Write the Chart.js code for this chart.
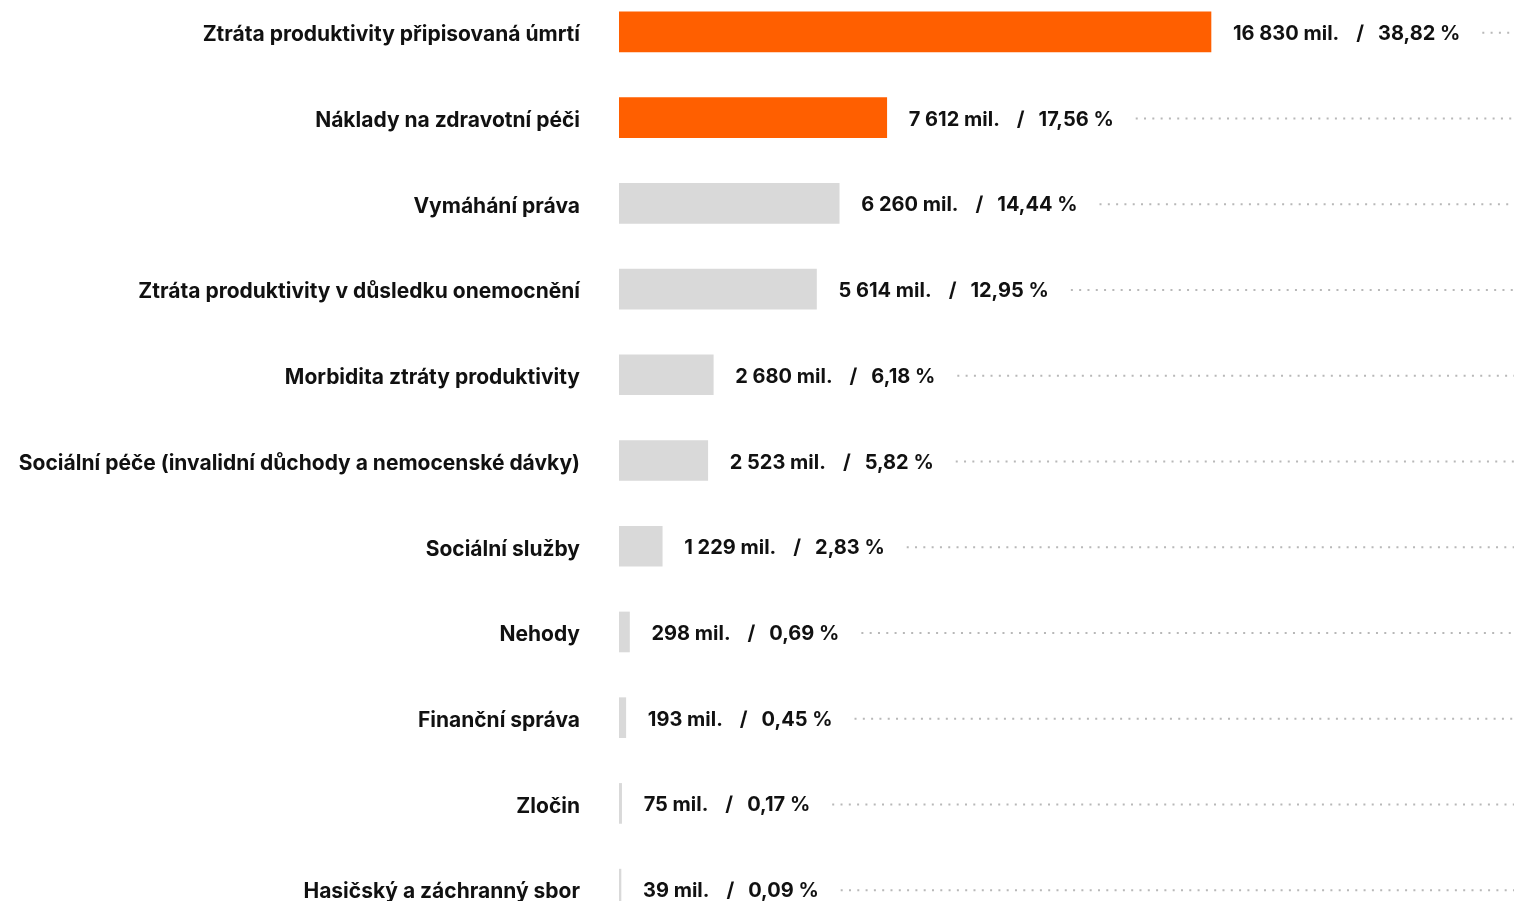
<!DOCTYPE html>
<html lang="cs">
<head>
<meta charset="utf-8">
<script src="https://cdn.jsdelivr.net/npm/chart.js"></script>
<style>
  html, body { margin: 0; padding: 0; background: #fff; overflow: hidden; width: 1517px; height: 901px; }
  #costChart { position: absolute; left: 0; top: -11px; }
</style>
</head>
<body>
<canvas id="costChart" width="1517" height="943"></canvas>
<script>
// data
const categories = [
  'Ztráta produktivity připisovaná úmrtí',
  'Náklady na zdravotní péči',
  'Vymáhání práva',
  'Ztráta produktivity v důsledku onemocnění',
  'Morbidita ztráty produktivity',
  'Sociální péče (invalidní důchody a nemocenské dávky)',
  'Sociální služby',
  'Nehody',
  'Finanční správa',
  'Zločin',
  'Hasičský a záchranný sbor'
];
const costMil = [16830, 7612, 6260, 5614, 2680, 2523, 1229, 298, 193, 75, 39];
const sharePct = [38.82, 17.56, 14.44, 12.95, 6.18, 5.82, 2.83, 0.69, 0.45, 0.17, 0.09];
const highlighted = [true, true, false, false, false, false, false, false, false, false, false];

const ORANGE = '#ff5f00';
const GREY = '#d9d9d9';
const FONT = 'Inter, "Noto Sans", sans-serif';

function fmtNum(v) {
  return v.toString().replace(/\B(?=(\d{3})+(?!\d))/g, ' ');
}
function fmtPct(v) {
  return v.toFixed(2).replace('.', ',') + ' %';
}

// draws "xx mil.  /  yy %" after each bar, then a dotted leader to the right edge
const valueLabels = {
  id: 'valueLabels',
  afterDatasetsDraw(chart) {
    const ctx = chart.ctx;
    const meta = chart.getDatasetMeta(0);
    ctx.save();
    ctx.font = '700 20px ' + FONT;
    ctx.fillStyle = '#111';
    ctx.textBaseline = 'middle';
    ctx.textAlign = 'left';
    meta.data.forEach((bar, i) => {
      const y = bar.y + 2;
      let x = Math.max(bar.x, chart.chartArea.left + 2) + 22;
      const a = fmtNum(costMil[i]) + ' mil.';
      ctx.fillText(a, x, y);
      x += ctx.measureText(a).width + 17;
      ctx.fillText('/', x, y);
      x += ctx.measureText('/').width + 14;
      const b = fmtPct(sharePct[i]);
      ctx.fillText(b, x, y);
      x += ctx.measureText(b).width + 22;

      ctx.beginPath();
      ctx.strokeStyle = '#b8b8b8';
      ctx.lineWidth = 2;
      ctx.setLineDash([2, 6.3]);
      ctx.moveTo(x, bar.y + 1);
      ctx.lineTo(1514, bar.y + 1);
      ctx.stroke();
      ctx.setLineDash([]);
    });
    ctx.restore();
  }
};

const ctx = document.getElementById('costChart').getContext('2d');
new Chart(ctx, {
  type: 'bar',
  data: {
    labels: categories,
    datasets: [{
      data: costMil,
      backgroundColor: highlighted.map(h => h ? ORANGE : GREY),
      barThickness: 40,
      minBarLength: 2
    }]
  },
  options: {
    indexAxis: 'y',
    responsive: false,
    animation: false,
    layout: { padding: 0 },
    plugins: {
      legend: { display: false },
      tooltip: { enabled: false }
    },
    scales: {
      x: {
        min: 0,
        max: 25530,
        display: false
      },
      y: {
        grid: { display: false, drawTicks: false },
        border: { display: false },
        ticks: {
          padding: 39,
          labelOffset: 3,
          color: '#111',
          font: { family: FONT, size: 21, weight: '700' }
        },
        afterFit(scale) {
          scale.width = 619;
          scale.paddingTop = 0;
          scale.paddingBottom = 0;
        }
      }
    }
  },
  plugins: [valueLabels]
});
</script>
</body>
</html>
